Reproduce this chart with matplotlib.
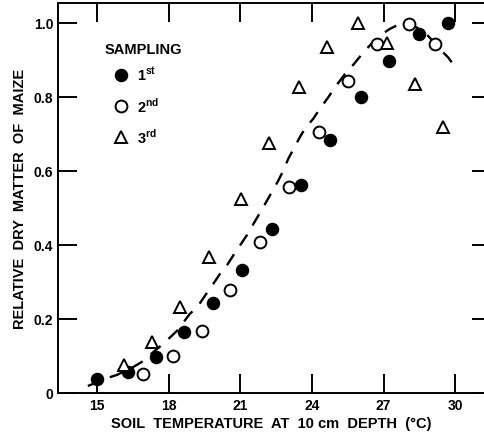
import matplotlib
matplotlib.use("Agg")
import matplotlib.pyplot as plt
from matplotlib.lines import Line2D

plt.rcParams['font.family'] = ['Liberation Sans', 'DejaVu Sans']
plt.rcParams['font.weight'] = 'bold'
plt.rcParams['axes.labelweight'] = 'bold'
plt.rcParams['mathtext.fontset'] = 'custom'
plt.rcParams['mathtext.rm'] = 'Liberation Sans:bold'
plt.rcParams['mathtext.bf'] = 'Liberation Sans:bold'

# ---- data ----
first_x = [15.0, 16.3, 17.47, 18.64, 19.85, 21.07, 22.32, 23.56, 24.75, 26.07, 27.22, 28.49, 29.70]
first_y = [0.038, 0.057, 0.097, 0.165, 0.243, 0.333, 0.443, 0.562, 0.685, 0.799, 0.898, 0.970, 0.999]

second_x = [16.94, 18.19, 19.38, 20.56, 21.82, 23.05, 24.30, 25.51, 26.74, 28.07, 29.14]
second_y = [0.051, 0.101, 0.168, 0.279, 0.409, 0.556, 0.705, 0.842, 0.943, 0.997, 0.943]

third_x = [16.13, 17.29, 18.47, 19.70, 21.05, 22.21, 23.45, 24.61, 25.93, 27.12, 28.31, 29.49]
third_y = [0.077, 0.137, 0.232, 0.367, 0.524, 0.676, 0.826, 0.936, 1.000, 0.945, 0.835, 0.718]

curve_x = [14.62, 15.46, 15.84, 16.51, 16.88, 17.51, 17.76, 18.35, 18.89, 19.23, 19.66, 19.87,
           20.15, 20.43, 20.70, 20.98, 21.26, 21.47, 21.75, 21.96, 22.31, 22.59, 22.80, 23.00,
           23.49, 23.70, 24.05, 24.33, 24.68, 24.96, 25.38, 25.59, 25.93, 26.28, 26.84, 27.26,
           27.54, 27.89, 28.38, 28.79, 29.42, 29.70, 30.05]
curve_y = [0.019, 0.041, 0.049, 0.070, 0.084, 0.119, 0.132, 0.168, 0.214, 0.235, 0.276, 0.295,
           0.322, 0.344, 0.371, 0.398, 0.425, 0.448, 0.479, 0.502, 0.542, 0.574, 0.601, 0.632,
           0.691, 0.714, 0.741, 0.768, 0.799, 0.826, 0.862, 0.876, 0.903, 0.930, 0.966, 0.984,
           0.993, 0.997, 0.988, 0.970, 0.925, 0.907, 0.876]

x_ticks = [15, 18, 21, 24, 27, 30]
y_ticks = [0, 0.2, 0.4, 0.6, 0.8, 1.0]
y_ticklabels = ['0', '0.2', '0.4', '0.6', '0.8', '1.0']
legend_title = 'SAMPLING'
legend_labels = ['1$^{\\rm st}$', '2$^{\\rm nd}$', '3$^{\\rm rd}$']

W, H = 484, 435
fig = plt.figure(figsize=(W / 100, H / 100), dpi=100)
ax = fig.add_axes([58 / W, (H - 394) / H, (W - 58) / W, (394 - 4) / H])

ax.plot(curve_x, curve_y, color='black', lw=1.7, dashes=(5.5, 4.5), zorder=1)
ax.plot(first_x, first_y, 'o', ms=8.5, mfc='black', mec='black', mew=1.2, zorder=3)
ax.plot(second_x, second_y, 'o', ms=8.5, mfc='white', mec='black', mew=1.4, zorder=3)
ax.plot(third_x, third_y, '^', ms=8, mfc='white', mec='black', mew=1.4, zorder=3)

ax.set_xlim(13.37, 31.2)
ax.set_ylim(0, 1.054)
ax.set_xticks(x_ticks)
ax.set_xticklabels([str(t) for t in x_ticks])
ax.set_yticks(y_ticks)
ax.set_yticklabels(y_ticklabels)

ax.tick_params(axis='both', direction='in', length=13.5, width=1.4, labelsize=10, pad=3.5,
               top=True, right=True)
for t in ax.yaxis.get_major_ticks():
    t.tick2line.set_markersize(9)
for s in ['left', 'bottom', 'top']:
    ax.spines[s].set_linewidth(1.4)
ax.spines['right'].set_visible(False)

ax.set_xlabel('SOIL  TEMPERATURE  AT  10 cm  DEPTH  (\u00b0C)', fontsize=10.5, labelpad=3)
ax.set_ylabel('RELATIVE  DRY  MATTER  OF  MAIZE', fontsize=10.5, labelpad=5)

handles = [
    Line2D([], [], ls='none', marker='o', ms=8.5, mfc='black', mec='black', mew=1.2),
    Line2D([], [], ls='none', marker='o', ms=8.5, mfc='white', mec='black', mew=1.4),
    Line2D([], [], ls='none', marker='^', ms=8, mfc='white', mec='black', mew=1.4),
]
ax.text(0.110, 0.882, legend_title, transform=ax.transAxes, ha='left', va='center',
        fontsize=10.5, fontweight='bold')
leg = ax.legend(handles, legend_labels, loc='upper left',
                bbox_to_anchor=(0.11, 0.841), frameon=False, fontsize=10.5,
                handlelength=2.2, handletextpad=0.0, labelspacing=0.85,
                borderaxespad=0, borderpad=0)

fig.savefig('out.png', dpi=100)
